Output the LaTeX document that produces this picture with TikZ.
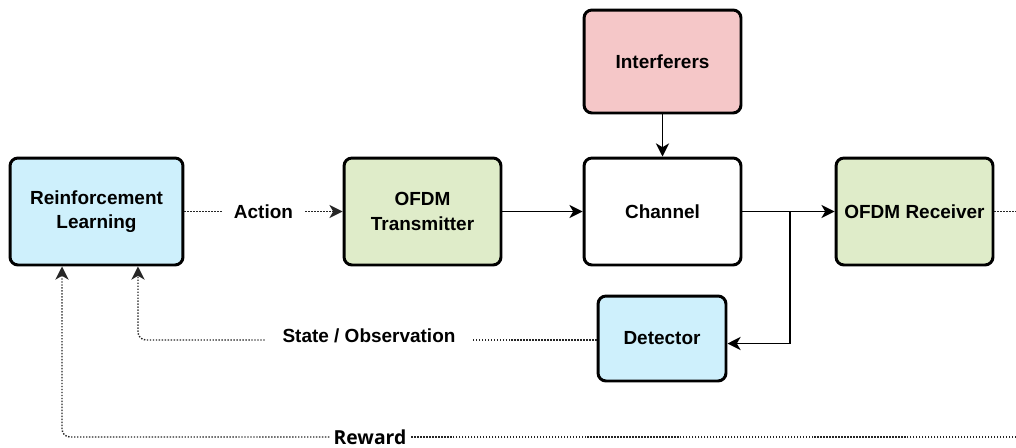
\documentclass[tikz,border=0pt]{standalone}
\usepackage{fontspec}
\setmainfont{Liberation Sans}
\newfontfamily\rwfont{Open Sans}
\usetikzlibrary{arrows.meta,calc}
\definecolor{rlblue}{RGB}{206,240,252}
\definecolor{ofdmgreen}{RGB}{223,236,201}
\definecolor{intpink}{RGB}{245,199,200}
\tikzset{
  block/.style={draw=black, line width=1.7pt, rounded corners=0.16cm,
    minimum width=3.14cm, minimum height=2.14cm, align=center,
    font=\fontsize{10.8}{14}\selectfont\bfseries, inner sep=2pt},
  lbl/.style={font=\fontsize{10.8}{13.6}\selectfont\bfseries, inner ysep=2pt},
  tip/.style={-{Stealth[length=7.5pt,width=7.5pt,inset=2.2pt]}},
  solidline/.style={draw=black, line width=0.8pt},
  dotline/.style={draw=black!85, line width=0.8pt, dash pattern=on 0.8pt off 0.9pt},
}
\begin{document}
\begin{tikzpicture}[x=0.02cm, y=-0.02cm]
\useasboundingbox (0,0) rectangle (1016,447);

% blocks
\node[block, fill=rlblue, minimum width=3.46cm] (rl) at (96.5,211.5) {Reinforcement\\Learning};
\node[block, fill=ofdmgreen] (tx) at (422.5,211.5) {OFDM\\Transmitter};
\node[block, fill=white] (ch) at (662.5,211.5) {Channel};
\node[block, fill=intpink, minimum height=2.06cm] (intf) at (662.5,61.5) {Interferers};
\node[block, fill=ofdmgreen] (rx) at (914.5,211.5) {OFDM Receiver};
\node[block, fill=rlblue, minimum width=2.56cm, minimum height=1.70cm] (det) at (662,338.5) {Detector};

% signal path
\draw[solidline, tip] (tx.east) -- (ch.west);
\draw[solidline, tip] (intf.south) -- (ch.north);
\draw[solidline, tip] (ch.east) -- (rx.west);
\coordinate (split) at (790,211.5);
\draw[solidline, tip] (split) |- ([yshift=-0.1cm]det.east);
\coordinate (rxout) at (1016,211.5);
\draw[dotline] (rx.east) -- (rxout);

% action
\node[lbl, inner xsep=0.24cm] (action) at (263.5,211.5) {Action};
\draw[dotline] (rl.east) -- (action.west);
\draw[dotline, tip] (action.east) -- (tx.west);

% state / observation
\node[lbl, inner xsep=0.35cm] (state) at (369,336) {State / Observation};
\draw[dotline] (det.west |- 0,340) -- (state.east |- 0,340);
\draw[dotline, tip, rounded corners=0.16cm] (state.west |- 0,340) -| ([xshift=0.83cm]rl.south);

% reward
\node[font=\rwfont\fontsize{11}{13}\selectfont\bfseries, inner xsep=0.08cm, inner ysep=1pt] (reward) at (370,437) {Reward};
\coordinate (rwin) at (1016,437);
\draw[dotline] (rwin) -- (reward.east);
\draw[dotline, tip, rounded corners=0.16cm] (reward.west) -| ([xshift=-0.69cm]rl.south);
\end{tikzpicture}
\end{document}
